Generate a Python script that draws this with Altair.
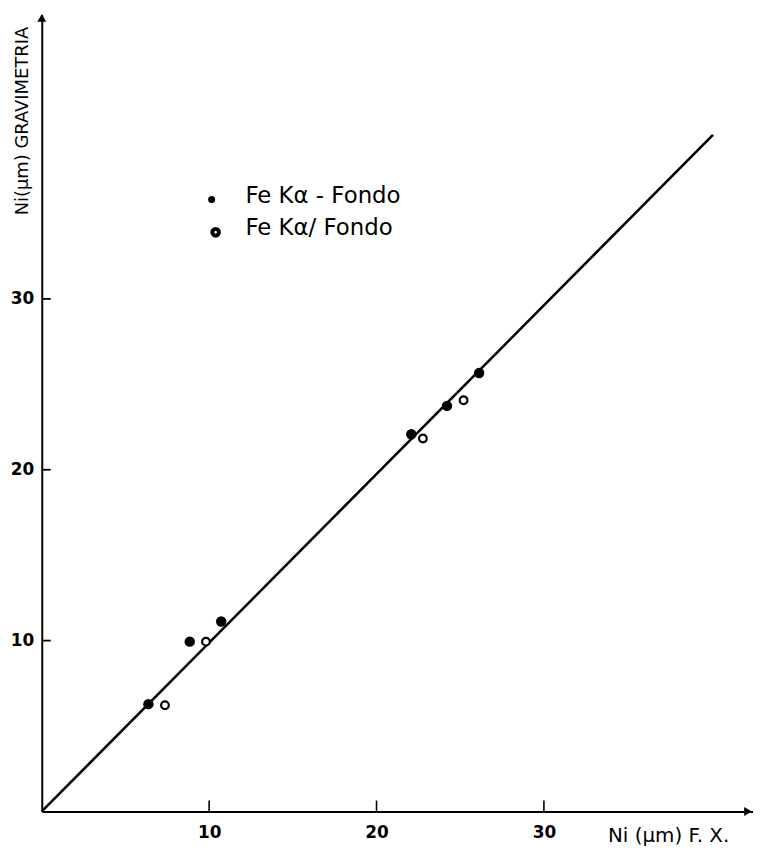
import altair as alt
import pandas as pd

# ---- data ----
filled_x = [6.37, 8.84, 10.72, 22.08, 24.21, 26.13]
filled_y = [6.28, 9.94, 11.12, 22.08, 23.74, 25.66]
open_x = [7.36, 9.81, 22.77, 25.2]
open_y = [6.22, 9.94, 21.83, 24.07]
line_x = [0.0, 40.1]
line_y = [0.0, 39.6]
tick_values = [10, 20, 30]
legend_labels = ["Fe Kα - Fondo", "Fe Kα/ Fondo"]
x_title = "Ni (μm) F. X."
y_title = "Ni(μm) GRAVIMETRIA"

W, H = 716, 802
XMAX = W / 16.85
YMAX = H / 17.2
FONT = "DejaVu Sans"

xs = alt.Scale(domain=[0, XMAX], nice=False, zero=False)
ys = alt.Scale(domain=[0, YMAX], nice=False, zero=False)
xaxis = alt.Axis(values=tick_values, ticks=False, tickSize=0, grid=False, domainColor="black",
                 domainWidth=2, labelFontSize=17, labelFontWeight="bold", labelColor="black",
                 labelPadding=13, labelFont=FONT, title=None, labelFlush=False)
yaxis = alt.Axis(values=tick_values, ticks=False, tickSize=0, grid=False, domainColor="black",
                 domainWidth=2, labelFontSize=17, labelFontWeight="bold", labelColor="black",
                 labelPadding=8, labelFont=FONT, title=None, labelFlush=False)
X = alt.X("x:Q", scale=xs, axis=xaxis)
Y = alt.Y("y:Q", scale=ys, axis=yaxis)

line_df = pd.DataFrame({"x": line_x, "y": line_y})
filled_df = pd.DataFrame({"x": filled_x, "y": filled_y})
open_df = pd.DataFrame({"x": open_x, "y": open_y})
xt_df = pd.DataFrame({"x": tick_values})
yt_df = pd.DataFrame({"y": tick_values})
one = pd.DataFrame({"k": [0]})

line = alt.Chart(line_df).mark_line(color="black", strokeWidth=2.6).encode(x=X, y=Y)
filled = alt.Chart(filled_df).mark_point(filled=True, shape="circle", size=110, color="black", opacity=1).encode(x=X, y=Y)
opens = alt.Chart(open_df).mark_point(filled=False, shape="circle", size=60, color="black",
                                      strokeWidth=2.2, opacity=1, fill="white", fillOpacity=1).encode(x=X, y=Y)
xticks = alt.Chart(xt_df).mark_rule(color="black", strokeWidth=1.6).encode(
    x=X, y=alt.value(H), y2=alt.value(H - 11))
yticks = alt.Chart(yt_df).mark_rule(color="black", strokeWidth=1.8).encode(
    y=Y, x=alt.value(0), x2=alt.value(9))

arrow_up = alt.Chart(one).mark_point(shape="triangle-up", filled=True, size=80, color="black", opacity=1).encode(
    x=alt.value(0), y=alt.value(3))
arrow_right = alt.Chart(one).mark_point(shape="triangle-right", filled=True, size=80, color="black", opacity=1).encode(
    x=alt.value(W - 5), y=alt.value(H))

xtitle = alt.Chart(one).mark_text(text=x_title, font=FONT, fontSize=20, align="left", baseline="middle",
                                  color="black").encode(x=alt.value(570), y=alt.value(H + 25))
ytitle = alt.Chart(one).mark_text(text=y_title, font=FONT, fontSize=18, align="center", baseline="middle",
                                  angle=270, color="black").encode(x=alt.value(-19), y=alt.value(107))

leg_dot1 = alt.Chart(one).mark_point(filled=True, shape="circle", size=50, color="black", opacity=1).encode(
    x=alt.value(171), y=alt.value(186))
leg_dot2 = alt.Chart(one).mark_point(filled=False, shape="circle", size=45, color="black", strokeWidth=4,
                                     opacity=1).encode(x=alt.value(175), y=alt.value(219))
leg_t1 = alt.Chart(one).mark_text(text=legend_labels[0], font=FONT, fontSize=23, align="left",
                                  baseline="middle", color="black").encode(x=alt.value(205), y=alt.value(182))
leg_t2 = alt.Chart(one).mark_text(text=legend_labels[1], font=FONT, fontSize=23, align="left",
                                  baseline="middle", color="black").encode(x=alt.value(205), y=alt.value(215))

chart = alt.layer(
    line, xticks, yticks, opens, filled, arrow_up, arrow_right, xtitle, ytitle,
    leg_dot1, leg_dot2, leg_t1, leg_t2
).properties(
    width=W, height=H,
    autosize=alt.AutoSizeParams(type="none"),
    padding={"left": 34, "top": 4, "right": 0, "bottom": 44},
    background="white",
).configure_view(stroke=None)

chart.save("out.html", embed_options={"renderer": "svg", "actions": False})
